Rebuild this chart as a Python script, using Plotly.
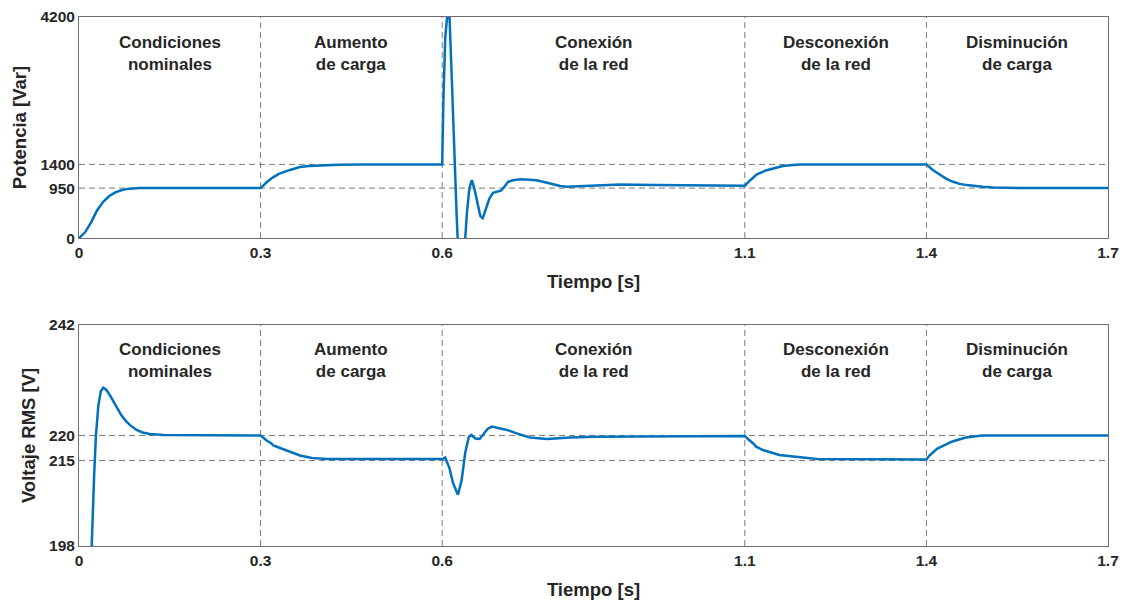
import plotly.graph_objects as go

# ---------------- data ----------------
t_power = [0, 0.01, 0.02, 0.03, 0.04, 0.05, 0.06, 0.07, 0.08, 0.09, 0.1, 0.3,
           0.31, 0.32, 0.33, 0.35, 0.365, 0.38, 0.4, 0.43, 0.47, 0.6,
           0.602, 0.605, 0.609, 0.612, 0.616, 0.62, 0.624, 0.628, 0.633, 0.637,
           0.641, 0.645, 0.649, 0.653, 0.658, 0.663, 0.667, 0.672, 0.678, 0.684,
           0.69, 0.697, 0.703, 0.709, 0.717, 0.729, 0.745, 0.756, 0.77, 0.783,
           0.795, 0.806, 0.82, 0.839, 0.87, 0.894, 0.95, 1.0, 1.06, 1.1,
           1.109, 1.12, 1.136, 1.15, 1.163, 1.175, 1.191, 1.22, 1.4,
           1.41, 1.422, 1.433, 1.444, 1.455, 1.467, 1.48, 1.493, 1.51, 1.55, 1.7]
q_power = [0, 110, 300, 530, 690, 800, 870, 910, 935, 945, 950, 950,
           1060, 1150, 1220, 1300, 1350, 1370, 1385, 1396, 1400, 1400,
           2600, 3800, 4300, 4250, 3000, 1600, 400, -600, -900, -200,
           500, 950, 1100, 950, 650, 420, 380, 550, 750, 860,
           880, 900, 980, 1070, 1100, 1120, 1110, 1100, 1060, 1020,
           990, 975, 980, 995, 1010, 1020, 1007, 1000, 995, 995,
           1100, 1210, 1290, 1335, 1370, 1385, 1398, 1400, 1400,
           1300, 1200, 1125, 1070, 1030, 1007, 988, 975, 962, 952, 950]

t_volt = [0, 0.015, 0.021, 0.025, 0.028, 0.032, 0.036, 0.04, 0.045, 0.05, 0.056,
          0.062, 0.07, 0.078, 0.084, 0.095, 0.105, 0.117, 0.14, 0.3,
          0.31, 0.318, 0.321, 0.33, 0.345, 0.365, 0.385, 0.41, 0.6,
          0.605, 0.612, 0.618, 0.626, 0.632, 0.638, 0.644, 0.648, 0.655, 0.662,
          0.668, 0.675, 0.682, 0.69, 0.707, 0.723, 0.745, 0.773, 0.811, 0.85,
          0.95, 1.1, 1.106, 1.116, 1.118, 1.13, 1.157, 1.191, 1.219, 1.4,
          1.405, 1.418, 1.443, 1.465, 1.493, 1.7]
v_volt = [0, 150, 198, 212, 220, 226, 228.8, 229.5, 229.1, 228.2, 226.9,
          225.7, 224.0, 222.8, 222.1, 221.1, 220.6, 220.3, 220.1, 220.0,
          219.0, 218.4, 218.0, 217.6, 216.9, 216.0, 215.5, 215.3, 215.3,
          215.6, 213.5, 210.5, 208.2, 211.0, 216.5, 219.7, 220.1, 219.4, 219.3,
          220.3, 221.3, 221.75, 221.5, 221.1, 220.4, 219.6, 219.3, 219.6, 219.75,
          219.85, 219.9, 219.2, 218.2, 217.8, 217.1, 216.1, 215.6, 215.3, 215.2,
          216.0, 217.4, 218.8, 219.6, 220.0, 220.0]

x_ticks = [0, 0.3, 0.6, 1.1, 1.4, 1.7]
x_tick_labels = ["0", "0.3", "0.6", "1.1", "1.4", "1.7"]
power_ticks = [0, 950, 1400, 4200]
volt_ticks = [198, 215, 220, 242]
event_times = [0.3, 0.6, 1.1, 1.4]
region_centers = [0.15, 0.45, 0.85, 1.25, 1.55]
region_labels = [("Condiciones", "nominales"), ("Aumento", "de carga"),
                 ("Conexión", "de la red"), ("Desconexión", "de la red"),
                 ("Disminución", "de carga")]

# ---------------- figure ----------------
BLUE = "#0072BD"
TXT = "#262626"
GRID = "#7a7a7a"
FONT = "Arial"

fig = go.Figure()
fig.add_trace(go.Scatter(x=t_power, y=q_power, mode="lines",
                         line=dict(color=BLUE, width=2.5), xaxis="x", yaxis="y",
                         showlegend=False))
fig.add_trace(go.Scatter(x=t_volt, y=v_volt, mode="lines",
                         line=dict(color=BLUE, width=2.5), xaxis="x2", yaxis="y2",
                         showlegend=False))

axis_common = dict(showgrid=False, zeroline=False, showline=True, mirror=True,
                   linecolor="#6e6e6e", linewidth=1, ticks="", automargin=False,
                   tickfont=dict(family=FONT, size=15.5, color=TXT))

xa = dict(range=[0, 1.7], tickvals=x_ticks, ticktext=[f"<b>{s}</b>" for s in x_tick_labels],
          title=dict(text="<b>Tiempo [s]</b>", font=dict(family=FONT, size=18.5, color=TXT),
                     standoff=15),
          **axis_common)

fig.update_layout(
    width=1125, height=601,
    margin=dict(l=79, r=17, t=17, b=55),
    paper_bgcolor="white", plot_bgcolor="white",
    xaxis=dict(domain=[0, 1], anchor="y", **xa),
    yaxis=dict(domain=[0.582, 1.0], anchor="x", range=[0, 4200], tickvals=power_ticks,
               ticktext=[f"<b>{v}</b>" for v in power_ticks],
               title=dict(text="<b>Potencia [Var]</b>", font=dict(family=FONT, size=18.5, color=TXT),
                          standoff=8),
               **axis_common),
    xaxis2=dict(domain=[0, 1], anchor="y2", **xa),
    yaxis2=dict(domain=[0.0, 0.418], anchor="x2", range=[198, 242], tickvals=volt_ticks,
                ticktext=[f"<b>{v}</b>" for v in volt_ticks],
                title=dict(text="<b>Voltaje RMS [V]</b>", font=dict(family=FONT, size=18.5, color=TXT),
                           standoff=8),
                **axis_common),
)

shapes = []
for xr, yr, hlines in (("x", "y", [950, 1400]), ("x2", "y2", [215, 220])):
    for et in event_times:
        shapes.append(dict(type="line", xref=xr, yref=f"{yr} domain", x0=et, x1=et, y0=0, y1=1,
                           line=dict(color=GRID, width=1, dash="6px,4px"), layer="below"))
    for h in hlines:
        shapes.append(dict(type="line", xref=f"{xr} domain", yref=yr, x0=0, x1=1, y0=h, y1=h,
                           line=dict(color=GRID, width=1, dash="6px,4px"), layer="below"))
fig.update_layout(shapes=shapes)

annotations = []
for xr, yr, yc in (("x", "y", 0.835), ("x2", "y2", 0.839)):
    for xc, (l1, l2) in zip(region_centers, region_labels):
        annotations.append(dict(x=xc, y=yc, xref=xr, yref=f"{yr} domain",
                                text=f"<b>{l1}</b><br><b>{l2}</b>", showarrow=False,
                                font=dict(family=FONT, size=17, color=TXT),
                                xanchor="center", yanchor="middle"))
fig.update_layout(annotations=annotations)

fig.write_html("out.html")
